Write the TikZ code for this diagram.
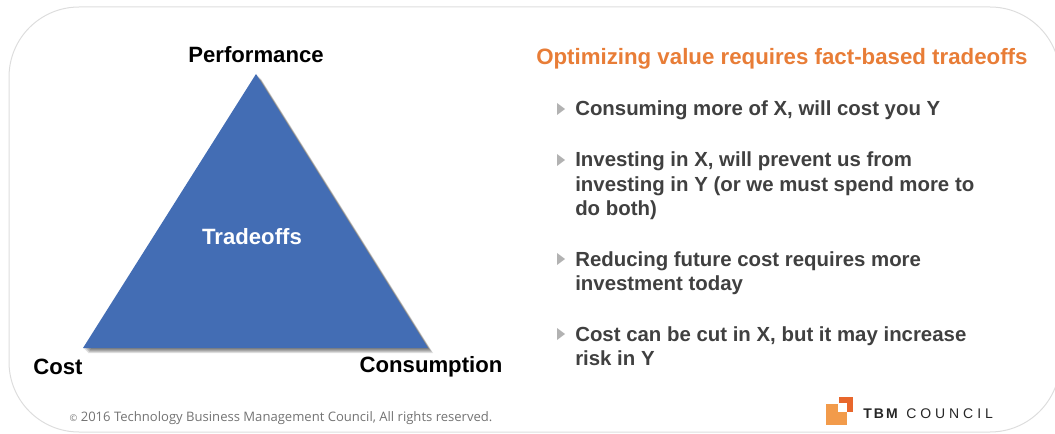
\documentclass[tikz,border=0pt]{standalone}
\usepackage{fontspec}
\setmainfont{Liberation Sans}
\newfontfamily\footfont{Open Sans}
\usetikzlibrary{positioning}
\definecolor{triblue}{HTML}{436DB4}
\definecolor{headorange}{HTML}{E87D37}
\definecolor{bodygray}{HTML}{404040}
\definecolor{framegray}{HTML}{DDDDDD}
\definecolor{logolight}{HTML}{F29B4B}
\definecolor{logodark}{HTML}{E8672C}
\begin{document}
\begin{tikzpicture}
  [
    x = 0.75pt,
    y = -0.75pt,
    corner/.style = {font = \bfseries\fontsize{16.6}{20}\selectfont, text = black, inner sep = 0pt},
    heading/.style = {font = \bfseries\fontsize{16.7}{20}\selectfont, text = headorange, inner sep = 0pt, anchor = base west},
    item/.style = {font = \bfseries\fontsize{15.3}{18.4}\selectfont, text = bodygray, inner sep = 0pt, anchor = base west, align = left},
    marker/.style = {fill = black!30, draw = none},
    blur/.style = {fill = black, fill opacity = 0.13},
    logotext/.style = {inner sep = 0pt, anchor = base west, text = black!85},
  ]

  \useasboundingbox (0,0) rectangle (1055,434);
  \draw [framegray, line width = 0.75pt, rounded corners = 52.5pt] (9,7) rectangle (1060,432);

  % triangle
  \coordinate (top) at (256,74);
  \coordinate (left) at (83,348);
  \coordinate (right) at (428,348);
  \foreach \s in {1,2,3,4,5}{
      \fill [blur] ([shift = {(\s,\s)}]top) -- ([shift = {(\s,\s)}]left) -- ([shift = {(\s,\s)}]right) -- cycle;
    }
  \fill [triblue] (top) -- (left) -- (right) -- cycle;

  \node [corner] (performance) at (256,55) {Performance};
  \node [corner] (cost) at (58,367) {Cost};
  \node [corner] (consumption) at (431,367) {Consumption};
  \node [corner, text = white] (tradeoffs) at (252,237) {Tradeoffs};

  % right column
  \node [heading] (title) at (536,65) {Optimizing value requires fact-based tradeoffs};

  \foreach \y in {109,160,259,334}{
      \fill [marker] (557,\y-6) -- (565,\y) -- (557,\y+6) -- cycle;
    }

  \node [item] (itemone) at (575,116) {Consuming more of X, will cost you Y};
  \node [item, anchor = north west] (itemtwo) at (575,151.5)
    {Investing in X, will prevent us from\\investing in Y (or we must spend more to\\do both)};
  \node [item, anchor = north west] (itemthree) at (575,251)
    {Reducing future cost requires more\\investment today};
  \node [item, anchor = north west] (itemfour) at (575,326)
    {Cost can be cut in X, but it may increase\\risk in Y};

  % footer
  \node [inner sep = 0pt, text = black!55, font = \footfont\fontsize{9.8}{12}\selectfont] (copyright) at (281,418)
    {{\fontsize{7}{12}\selectfont\textcopyright} 2016 Technology Business Management Council, All rights reserved.};

  % logo
  \fill [logodark] (839,397) rectangle (852.5,412);
  \fill [logolight] (826,404) rectangle (847,425);
  \fill [white] (838,403) rectangle (847,412);
  \node [logotext, font = \bfseries\fontsize{10.5}{12}\selectfont] (tbm) at (863,418) {\addfontfeatures{LetterSpace=15}TBM};
  \node [logotext, font = \fontsize{10.5}{12}\selectfont, right = 6pt of tbm.base east, anchor = base west] (council) {\addfontfeatures{LetterSpace=28}COUNCIL};
\end{tikzpicture}
\end{document}
